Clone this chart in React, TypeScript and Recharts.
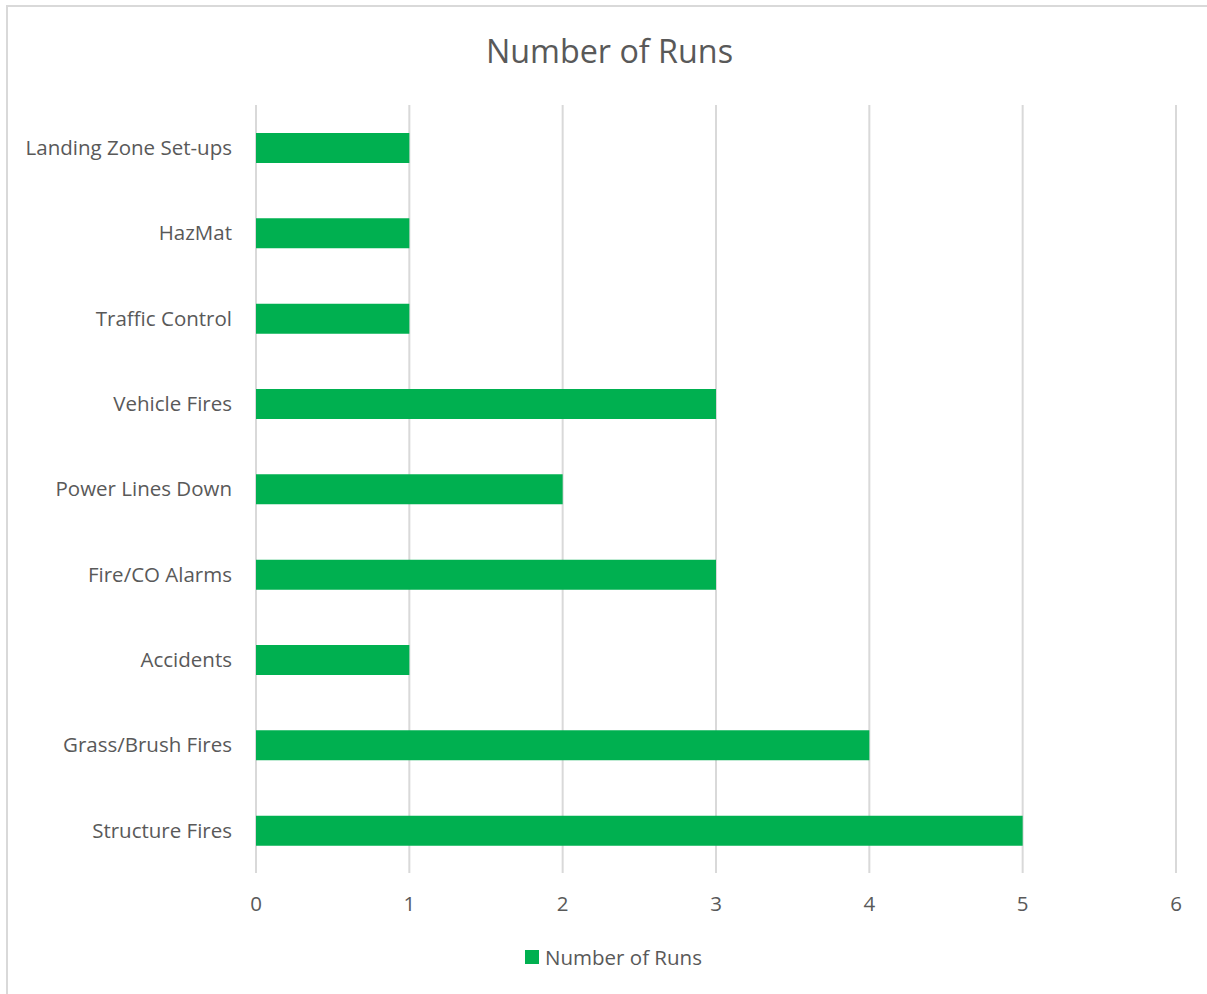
import { BarChart, Bar, XAxis, YAxis, CartesianGrid, Legend } from 'recharts'

const categories = [
  'Landing Zone Set-ups',
  'HazMat',
  'Traffic Control',
  'Vehicle Fires',
  'Power Lines Down',
  'Fire/CO Alarms',
  'Accidents',
  'Grass/Brush Fires',
  'Structure Fires',
]
const runs = [1, 1, 1, 3, 2, 3, 1, 4, 5]
const xTicks = [0, 1, 2, 3, 4, 5, 6]

const data = categories.map((name, i) => ({ name, runs: runs[i] }))

const TEXT = '#595959'
const GREEN = '#00B050'
const GRID = '#d9d9d9'
const FONT = 20.5

const LegendContent = () => (
  <div
    style={{
      height: 30,
      display: 'flex',
      alignItems: 'center',
      justifyContent: 'center',
      color: TEXT,
      fontSize: FONT,
    }}
  >
    <span style={{ width: 14, height: 14, background: GREEN, marginRight: 6, display: 'inline-block' }} />
    Number of Runs
  </div>
)

export default function App() {
  return (
    <div
      style={{
        position: 'absolute',
        left: 0,
        top: 0,
        width: 1207,
        height: 994,
        overflow: 'hidden',
        background: '#fff',
        fontFamily: '"Open Sans", sans-serif',
      }}
    >
      <div
        style={{
          position: 'absolute',
          left: 6,
          top: 5,
          width: 1240,
          height: 1040,
          border: `2px solid ${GRID}`,
        }}
      />
      <div
        style={{
          position: 'absolute',
          left: 0,
          width: 1219,
          top: 27,
          textAlign: 'center',
          fontSize: 32.3,
          lineHeight: '46px',
          color: TEXT,
        }}
      >
        Number of Runs
      </div>
      <div style={{ position: 'absolute', left: 0, top: 0 }}>
        <BarChart
          width={1207}
          height={994}
          data={data}
          layout="vertical"
          margin={{ top: 105, right: 31, left: 0, bottom: 22 }}
        >
          <CartesianGrid horizontal={false} stroke={GRID} strokeWidth={2} />
          <XAxis
            type="number"
            domain={[0, 6]}
            ticks={xTicks}
            height={69}
            axisLine={false}
            tickLine={false}
            tickSize={0}
            tickMargin={23}
            tick={{ fill: TEXT, fontSize: FONT }}
          />
          <YAxis
            type="category"
            dataKey="name"
            width={256}
            axisLine={false}
            tickLine={false}
            tickSize={0}
            tickMargin={24}
            interval={0}
            tick={{ fill: TEXT, fontSize: FONT }}
          />
          <Legend
            verticalAlign="bottom"
            height={30}
            content={<LegendContent />}
            wrapperStyle={{ left: 0, width: 1227 }}
          />
          <Bar dataKey="runs" name="Number of Runs" fill={GREEN} barSize={30} isAnimationActive={false} />
        </BarChart>
      </div>
    </div>
  )
}
